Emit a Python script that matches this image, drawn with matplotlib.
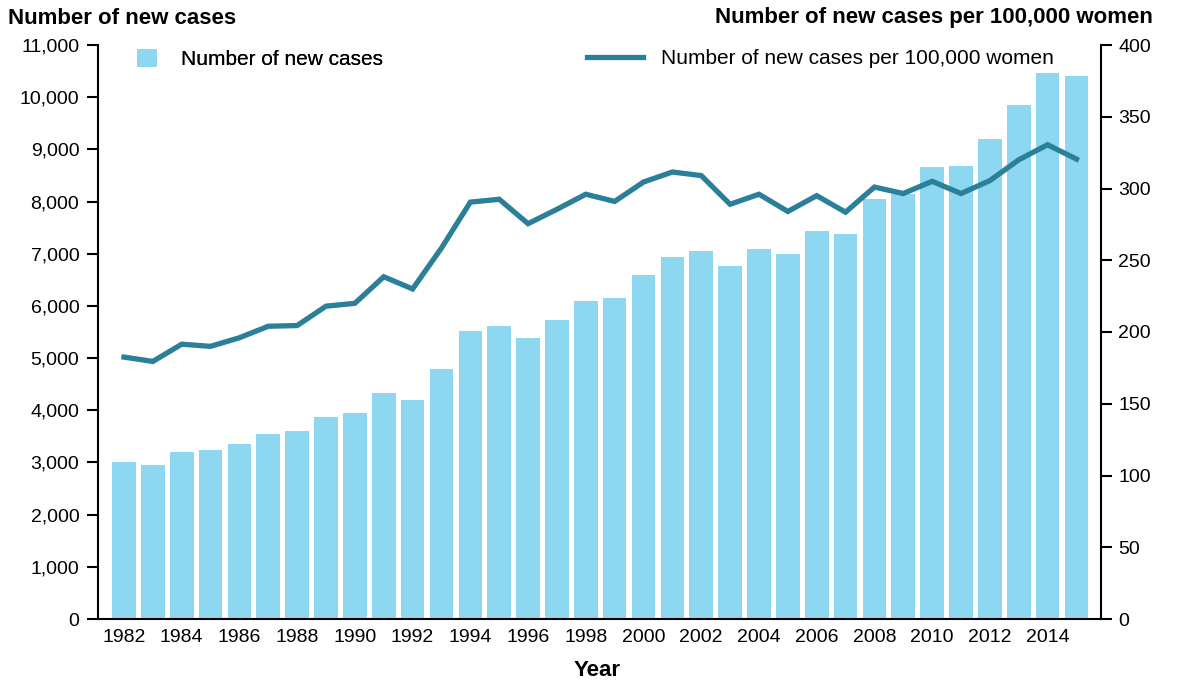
"""Breast cancer incidence: new cases (bars) and rate per 100,000 women (line)."""

import matplotlib

matplotlib.use("Agg")
import matplotlib.pyplot as plt
from matplotlib.lines import Line2D
from matplotlib.patches import Patch
from matplotlib.ticker import FuncFormatter, MultipleLocator

plt.rcParams["font.family"] = ["Liberation Sans", "DejaVu Sans"]

# ---- data ----------------------------------------------------------------
years = list(range(1982, 2016))
new_cases = [
    3000, 2950, 3200, 3240, 3350, 3545, 3600, 3870, 3950, 4330,
    4200, 4790, 5520, 5615, 5385, 5730, 6095, 6150, 6595, 6940,
    7055, 6765, 7090, 6995, 7435, 7380, 8050, 8150, 8660, 8680,
    9200, 9850, 10465, 10405,
]
rate_per_100k = [
    182.5, 179.5, 191.5, 190.0, 196.0, 204.0, 204.5, 218.0, 220.0, 238.5,
    230.0, 258.5, 290.5, 292.5, 275.5, 285.5, 296.0, 291.0, 304.5, 311.5,
    309.0, 289.0, 296.0, 284.0, 295.0, 283.5, 301.0, 296.5, 305.0, 296.5,
    305.5, 320.0, 330.5, 320.5,
]
year_ticks = list(range(1982, 2016, 2))

BAR_COLOR = "#8DD7F0"
LINE_COLOR = "#2A7F99"
FS = 14

# ---- figure --------------------------------------------------------------
fig = plt.figure(figsize=(11.85, 6.83), dpi=100)
ax = fig.add_axes([98 / 1185, 1 - 619 / 683, (1101 - 98) / 1185, (619 - 45) / 683])

ax.bar(years, new_cases, width=0.82, color=BAR_COLOR, zorder=2)
ax.set_xlim(1981.1, 2015.85)
ax.set_ylim(0, 11000)
ax.yaxis.set_major_locator(MultipleLocator(1000))
ax.yaxis.set_major_formatter(FuncFormatter(lambda v, _: f"{int(v):,}"))
ax.set_xticks(year_ticks)
ax.tick_params(axis="x", length=0, pad=7, labelsize=FS)
ax.tick_params(axis="y", length=8, width=1.5, direction="out", pad=5.5, labelsize=FS)
ax.spines["top"].set_visible(False)
ax.spines["right"].set_visible(False)
for side in ("left", "bottom"):
    ax.spines[side].set_linewidth(1.5)

ax2 = ax.twinx()
ax2.plot(years, rate_per_100k, color=LINE_COLOR, linewidth=3.8, solid_joinstyle="miter", zorder=3)
ax2.set_ylim(0, 400)
ax2.yaxis.set_major_locator(MultipleLocator(50))
ax2.tick_params(axis="y", length=8, width=1.5, direction="out", pad=4.5, labelsize=FS)
ax2.spines["top"].set_visible(False)
ax2.spines["left"].set_visible(False)
ax2.spines["bottom"].set_visible(False)
ax2.spines["right"].set_linewidth(1.5)

# ---- axis titles ---------------------------------------------------------
fig.text(8 / 1185, 1 - 18 / 683, "Number of new cases", fontsize=16, fontweight="bold",
         ha="left", va="center")
fig.text(1153 / 1185, 1 - 18 / 683, "Number of new cases per 100,000 women", fontsize=16,
         fontweight="bold", ha="right", va="center")
fig.text(597 / 1185, 1 - 671 / 683, "Year", fontsize=16, fontweight="bold",
         ha="center", va="center")

# ---- legends -------------------------------------------------------------
leg1 = fig.legend(
    handles=[Patch(facecolor=BAR_COLOR, edgecolor="none", label="Number of new cases")],
    loc="center left", bbox_to_anchor=(137 / 1185, 1 - 59 / 683), frameon=False,
    fontsize=15, handlelength=0.95, handleheight=0.95, handletextpad=1.15, borderpad=0,
    borderaxespad=0,
)
fig.add_artist(leg1)
fig.legend(
    handles=[Line2D([], [], color=LINE_COLOR, linewidth=3.8,
                    label="Number of new cases per 100,000 women")],
    loc="center left", bbox_to_anchor=(587 / 1185, 1 - 59 / 683), frameon=False,
    fontsize=15, handlelength=2.7, handletextpad=0.85, borderpad=0, borderaxespad=0,
)

fig.savefig("out.png", dpi=100)
